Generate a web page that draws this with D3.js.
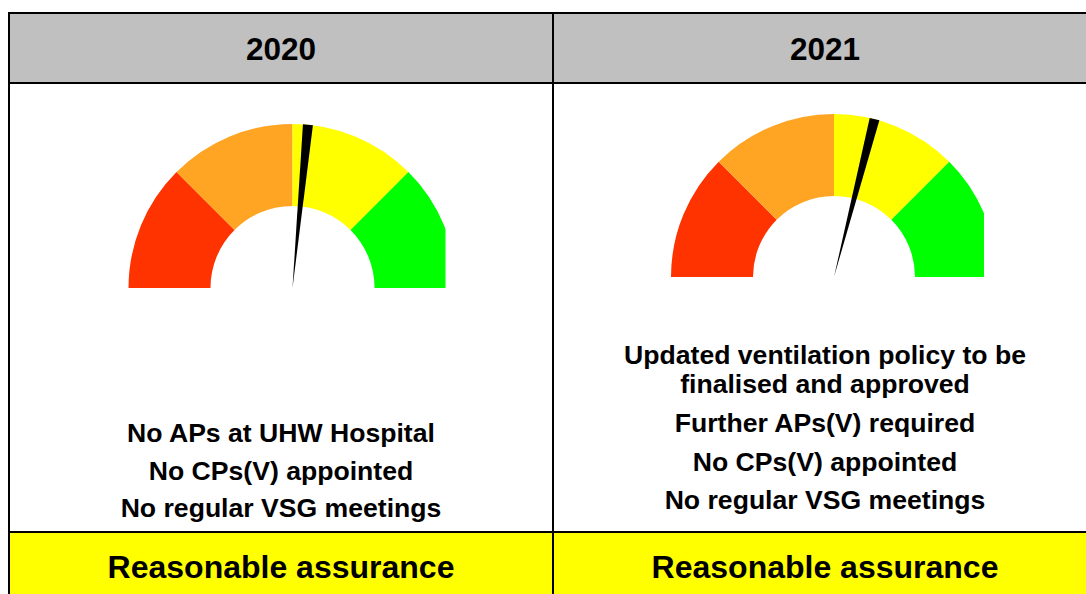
<!DOCTYPE html>
<html>
<head>
<meta charset="utf-8">
<script src="https://cdn.jsdelivr.net/npm/d3@7"></script>
<style>
  html, body { margin: 0; padding: 0; background: #fff; overflow: hidden; }
  svg { display: block; font-family: "Liberation Sans", Arial, Helvetica, sans-serif; }
</style>
</head>
<body>
<div id="chart"></div>
<script>
// ---- data ----
const years        = ['2020', '2021'];
const gaugeValues  = [53, 58];                 // needle position, 0–100
const bandStops    = [0, 25, 50, 75, 100];
const bandColors   = ['#ff3300', '#ffa523', '#ffff00', '#00ff00'];
const findings2020 = [['No APs at UHW Hospital'], ['No CPs(V) appointed'], ['No regular VSG meetings']];
const findings2021 = [['Updated ventilation policy to be', 'finalised and approved'],
                      ['Further APs(V) required'], ['No CPs(V) appointed'], ['No regular VSG meetings']];
const findings     = [findings2020, findings2021];
const ratings      = ['Reasonable assurance', 'Reasonable assurance'];

// ---- layout ----
const W = 1086, H = 594;
const tLeft = 9, tTop = 13, tRight = 1097, tBottom = 640;
const headerBottom = 83, footerTop = 532;

const svg = d3.select('#chart').append('svg')
  .attr('width', W).attr('height', H)
  .attr('viewBox', `0 0 ${W} ${H}`);

const col = d3.scaleBand().domain(years).range([tLeft, tRight]);

// header + footer fills
svg.selectAll('rect.head').data(years).join('rect')
  .attr('class', 'head')
  .attr('x', d => col(d)).attr('y', tTop)
  .attr('width', col.bandwidth()).attr('height', headerBottom - tTop)
  .attr('fill', '#c0c0c0');
svg.selectAll('rect.foot').data(years).join('rect')
  .attr('class', 'foot')
  .attr('x', d => col(d)).attr('y', footerTop)
  .attr('width', col.bandwidth()).attr('height', tBottom - footerTop)
  .attr('fill', '#ffff00');

// gauges
const angle = d3.scaleLinear().domain([0, 100]).range([-Math.PI / 2, Math.PI / 2]);
const gaugeGeom = [
  { cx: 292.5, cy: 288, rOut: 164, rIn: 82, clipRight: 445.5 },
  { cx: 834,   cy: 277, rOut: 163, rIn: 81, clipRight: 984 }
];
const bands = d3.pairs(bandStops).map((p, i) => ({ from: p[0], to: p[1], color: bandColors[i] }));

years.forEach((y, i) => {
  const g = gaugeGeom[i];
  const clipId = 'clip-' + y;
  svg.append('clipPath').attr('id', clipId)
    .append('rect')
    .attr('x', g.cx - g.rOut - 2).attr('y', g.cy - g.rOut - 2)
    .attr('width', g.clipRight - (g.cx - g.rOut - 2)).attr('height', g.rOut + 2);

  const gg = svg.append('g')
    .attr('clip-path', `url(#${clipId})`)
    .append('g')
    .attr('transform', `translate(${g.cx},${g.cy})`);

  const arc = d3.arc().innerRadius(g.rIn).outerRadius(g.rOut);
  gg.selectAll('path.band').data(bands).join('path')
    .attr('class', 'band')
    .attr('d', d => arc({ startAngle: angle(d.from), endAngle: angle(d.to) }))
    .attr('fill', d => d.color);

  // needle: thin wedge from pivot to the rim
  const a = angle(gaugeValues[i]);
  const halfW = 5;
  const tx = g.rOut * Math.sin(a), ty = -g.rOut * Math.cos(a);
  const px = Math.cos(a) * halfW, py = Math.sin(a) * halfW;
  gg.append('path')
    .attr('d', `M0,0 L${tx - px},${ty - py} L${tx + px},${ty + py} Z`)
    .attr('fill', '#000');
});

// header text
svg.selectAll('text.year').data(years).join('text')
  .attr('class', 'year')
  .attr('x', d => col(d) + col.bandwidth() / 2)
  .attr('y', 60)
  .attr('text-anchor', 'middle')
  .attr('font-size', 31.5).attr('font-weight', 700)
  .text(d => d);

// findings text
const baselines = [[442, 479.5, 517], [364, 432, 471, 509]];
const wrapStep = 29;
years.forEach((y, i) => {
  const cx = col(y) + col.bandwidth() / 2;
  findings[i].forEach((para, j) => {
    para.forEach((line, k) => {
      svg.append('text')
        .attr('x', cx)
        .attr('y', baselines[i][j] + k * wrapStep)
        .attr('text-anchor', 'middle')
        .attr('font-size', 26.6).attr('font-weight', 700)
        .text(line);
    });
  });
});

// rating text
svg.selectAll('text.rating').data(years).join('text')
  .attr('class', 'rating')
  .attr('x', d => col(d) + col.bandwidth() / 2)
  .attr('y', 578)
  .attr('text-anchor', 'middle')
  .attr('font-size', 32).attr('font-weight', 700)
  .text((d, i) => ratings[i]);

// grid lines
const lines = svg.append('g').attr('stroke', '#000').attr('stroke-width', 2);
[tTop, headerBottom, footerTop].forEach(yy => {
  lines.append('line').attr('x1', tLeft - 1).attr('x2', tRight).attr('y1', yy).attr('y2', yy);
});
[tLeft, col(years[1])].forEach(xx => {
  lines.append('line').attr('x1', xx).attr('x2', xx).attr('y1', tTop - 1).attr('y2', tBottom);
});
</script>
</body>
</html>
